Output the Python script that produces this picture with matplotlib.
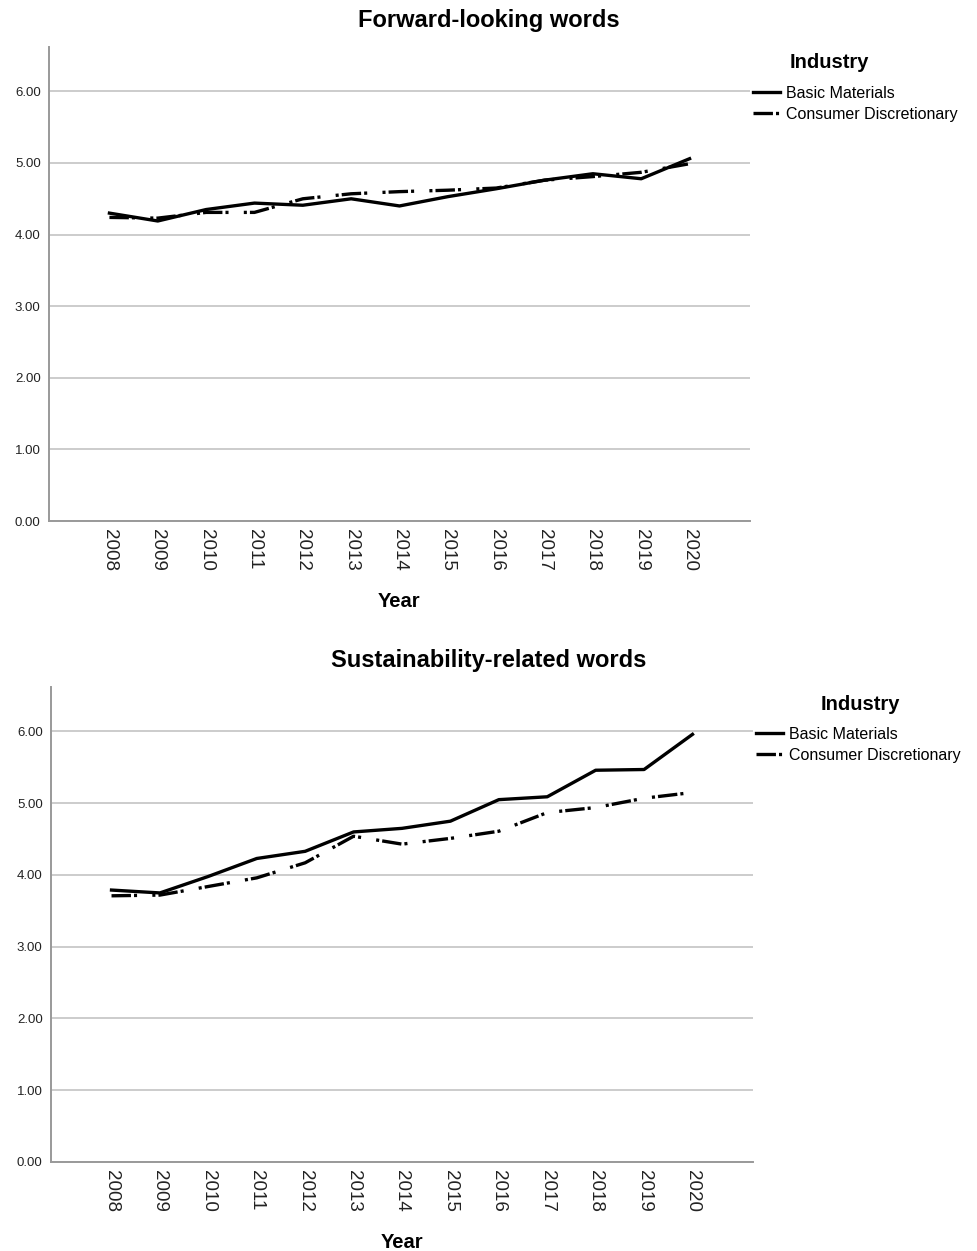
import matplotlib
matplotlib.use("Agg")
import matplotlib.pyplot as plt

plt.rcParams['font.family'] = ['Liberation Sans', 'DejaVu Sans']
plt.rcParams['lines.scale_dashes'] = False

years = ['2008', '2009', '2010', '2011', '2012', '2013', '2014',
         '2015', '2016', '2017', '2018', '2019', '2020']

fwd_basic = [4.30, 4.19, 4.35, 4.44, 4.41, 4.50, 4.40, 4.53, 4.64, 4.76, 4.85, 4.78, 5.06]
fwd_consumer = [4.24, 4.23, 4.31, 4.31, 4.50, 4.57, 4.60, 4.62, 4.65, 4.76, 4.81, 4.87, 4.99]

sus_basic = [3.79, 3.75, 3.98, 4.23, 4.33, 4.60, 4.65, 4.75, 5.05, 5.09, 5.46, 5.47, 5.96]
sus_consumer = [3.71, 3.72, 3.84, 3.96, 4.17, 4.54, 4.43, 4.51, 4.61, 4.87, 4.94, 5.07, 5.15]

yticks = [0, 1, 2, 3, 4, 5, 6]

W, H = 978, 1251
fig = plt.figure(figsize=(W / 100, H / 100), dpi=100)

# dot - dash - dot, then a long gap (SPSS style)
dashdot = (14, 2.2, 2.2, 11, 2.2, 2.2)


def draw_panel(rect, title, title_y, basic, consumer, legend_x, legend_y, ind_x, ind_y):
    l, t, r, b = rect
    ax = fig.add_axes([l / W, 1 - b / H, (r - l) / W, (b - t) / H])
    x = list(range(len(years)))
    ax.plot(x, basic, color='black', lw=2.4, label='Basic Materials')
    ax.plot(x, consumer, color='black', lw=2.4, dashes=dashdot,
            dash_capstyle='butt', label='Consumer Discretionary')
    ax.set_xlim(-1.25, 13.25)
    ax.set_ylim(0, 6.62)
    ax.set_yticks(yticks)
    ax.set_yticklabels(['%.2f' % v for v in yticks], fontsize=9.5, color='#222222')
    ax.set_xticks(x)
    ax.set_xticklabels(years, rotation=270, fontsize=13.5, color='#222222')
    ax.tick_params(length=0, pad=6)
    ax.grid(axis='y', color='#c8c8c8', lw=1.3)
    ax.set_axisbelow(True)
    for s in ['top', 'right']:
        ax.spines[s].set_visible(False)
    for s in ['left', 'bottom']:
        ax.spines[s].set_color('#999999')
        ax.spines[s].set_linewidth(1.4)
    ax.set_xlabel('Year', fontsize=14.5, fontweight='bold', labelpad=15)
    fig.text(0.5, 1 - title_y / H, title, ha='center', va='center',
             fontsize=17, fontweight='bold')
    fig.text(ind_x / W, 1 - ind_y / H, 'Industry', ha='center', va='center',
             fontsize=14.5, fontweight='bold')
    ax.legend(loc='upper left', bbox_to_anchor=(legend_x / W, 1 - legend_y / H),
              bbox_transform=fig.transFigure, frameon=False, fontsize=11.5,
              handlelength=1.7, handletextpad=0.35, labelspacing=0.35,
              borderpad=0, borderaxespad=0)
    return ax


draw_panel((49, 47, 750, 521), 'Forward-looking words', 20,
           fwd_basic, fwd_consumer, 753, 86, 829, 62)
draw_panel((51, 687, 753, 1162), 'Sustainability-related words', 661,
           sus_basic, sus_consumer, 756, 727, 860, 704)

fig.savefig('out.png', dpi=100)
